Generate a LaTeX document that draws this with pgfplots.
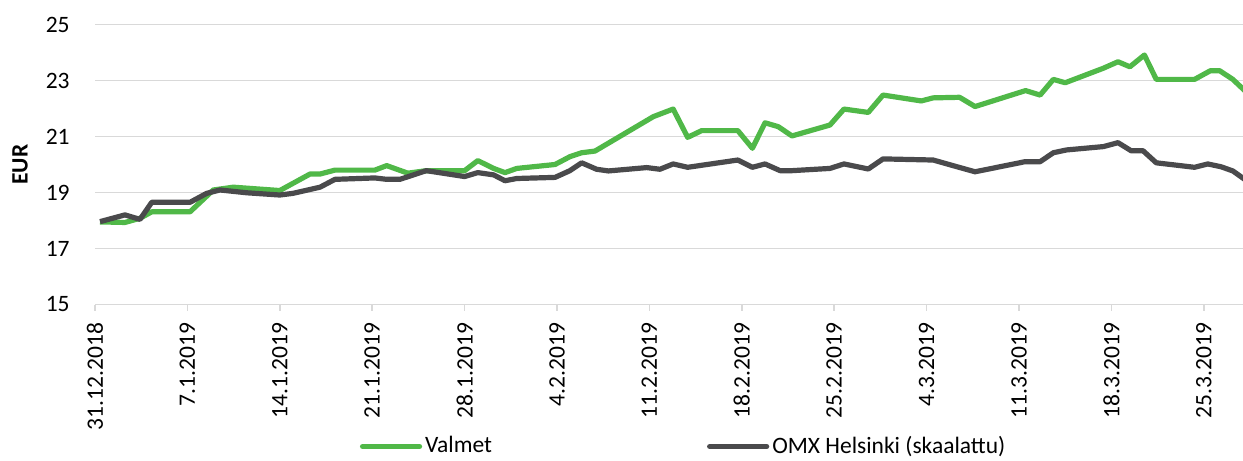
\documentclass[border=0pt]{standalone}
\usepackage{fontspec}
\setmainfont{Carlito}
\usepackage{pgfplots}
\pgfplotsset{compat=1.18}
\definecolor{vgreen}{HTML}{50B848}
\definecolor{omxgray}{HTML}{4A4A4C}
\definecolor{gridgray}{HTML}{D9D9D9}
\begin{document}
\fontsize{11.75}{14}\selectfont
\begin{tikzpicture}
\begin{axis}[
  width=574pt, height=140pt, scale only axis,
  xmin=0, xmax=86.97, ymin=15, ymax=25,
  ytick={15,17,...,25},
  xtick={0,7,...,84},
  xticklabels={31.12.2018,7.1.2019,14.1.2019,21.1.2019,28.1.2019,4.2.2019,11.2.2019,18.2.2019,25.2.2019,4.3.2019,11.3.2019,18.3.2019,25.3.2019},
  axis x line*=bottom, axis y line*=left,
  x axis line style={gridgray, line width=0.75pt, -},
  y axis line style={draw=none, -},
  ymajorgrids, grid style={gridgray, line width=0.75pt},
  tick align=outside, major tick length=3pt,
  xtick style={gridgray, line width=0.75pt},
  ytick style={draw=none},
  xticklabel style={rotate=90, anchor=east, inner sep=0pt},
  xticklabel shift=6pt,
  yticklabel style={anchor=east, inner sep=0pt},
  yticklabel shift=9.5pt,
  /pgf/number format/assume math mode=true,
  ylabel={\bfseries EUR},
  ylabel style={at={(axis description cs:0,0.5)}, anchor=center, rotate=0, yshift=37.5pt},
  legend image code/.code={\draw[#1, line cap=round] (0pt,0pt) -- (28.5pt,0pt);},
  legend style={at={(axis description cs:0.2308,-0.507)}, anchor=west, draw=none, fill=none,
    inner sep=0pt, outer sep=0pt, legend columns=2,
    nodes={inner sep=0pt, anchor=west},
    /tikz/every odd column/.append style={column sep=1.5pt},
    /tikz/every even column/.append style={column sep=107.5pt}},
  legend cell align=left,
]
\coordinate (SW) at (rel axis cs:0,0);
\coordinate (NE) at (rel axis cs:1,1);
\addplot[vgreen, line width=2.6pt, line join=round] coordinates {
(0.38,17.95) (2.27,17.93) (3.41,18.08) (4.30,18.31) (7.2,18.31) (8.96,19.09) (10.48,19.19)
(14.0,19.07) (16.29,19.66) (17.05,19.66) (18.18,19.80) (21.2,19.80) (22.1,19.96) (23.7,19.69)
(25.1,19.78) (28.0,19.78) (29.0,20.14) (30.2,19.86) (31.06,19.71) (31.95,19.86) (34.85,20.0)
(35.98,20.28) (36.87,20.42) (37.88,20.48) (42.3,21.71) (43.8,21.98) (44.9,20.97) (45.96,21.21)
(48.7,21.21) (49.8,20.58) (50.76,21.49) (51.77,21.35) (52.8,21.02) (55.68,21.41) (56.74,21.98)
(58.58,21.86) (59.7,22.48) (62.6,22.27) (63.5,22.38) (65.5,22.4) (66.67,22.07) (70.5,22.64)
(71.6,22.48) (72.6,23.04) (73.5,22.92) (76.4,23.44) (77.5,23.67) (78.4,23.49) (79.5,23.91)
(80.4,23.04) (83.3,23.04) (84.5,23.35) (85.2,23.35) (86.2,23.04) (87.3,22.55)
};
\addlegendentry{Valmet}
\addplot[omxgray, line width=2.6pt, line join=round] coordinates {
(0.38,17.96) (2.27,18.2) (3.41,18.04) (4.3,18.65) (7.2,18.65) (8.46,18.97) (9.47,19.09)
(11.5,18.99) (14.0,18.91) (15.0,18.97) (17.05,19.19) (18.18,19.47) (21.2,19.52) (22.1,19.47)
(23.1,19.47) (25.1,19.78) (28.0,19.57) (29.0,19.71) (30.2,19.63) (31.06,19.42) (31.95,19.5)
(34.85,19.54) (35.98,19.78) (36.87,20.06) (38.0,19.83) (38.9,19.77) (41.8,19.89) (42.8,19.83)
(43.8,20.02) (44.9,19.9) (48.7,20.16) (49.8,19.9) (50.76,20.02) (51.9,19.78) (52.8,19.78)
(55.68,19.86) (56.74,20.02) (58.58,19.84) (59.7,20.2) (63.5,20.16) (65.3,19.92) (66.67,19.74)
(70.45,20.1) (71.6,20.1) (72.6,20.42) (73.6,20.52) (76.4,20.64) (77.5,20.78) (78.5,20.49)
(79.4,20.49) (80.4,20.06) (83.3,19.9) (84.3,20.02) (85.3,19.92) (86.2,19.77) (87.3,19.4)
};
\addlegendentry{OMX Helsinki (skaalattu)}
\end{axis}
\pgfresetboundingbox
\path[use as bounding box] ([shift={(-47.5pt,-78pt)}]SW) rectangle ([shift={(0pt,12.25pt)}]NE);
\end{tikzpicture}
\end{document}
